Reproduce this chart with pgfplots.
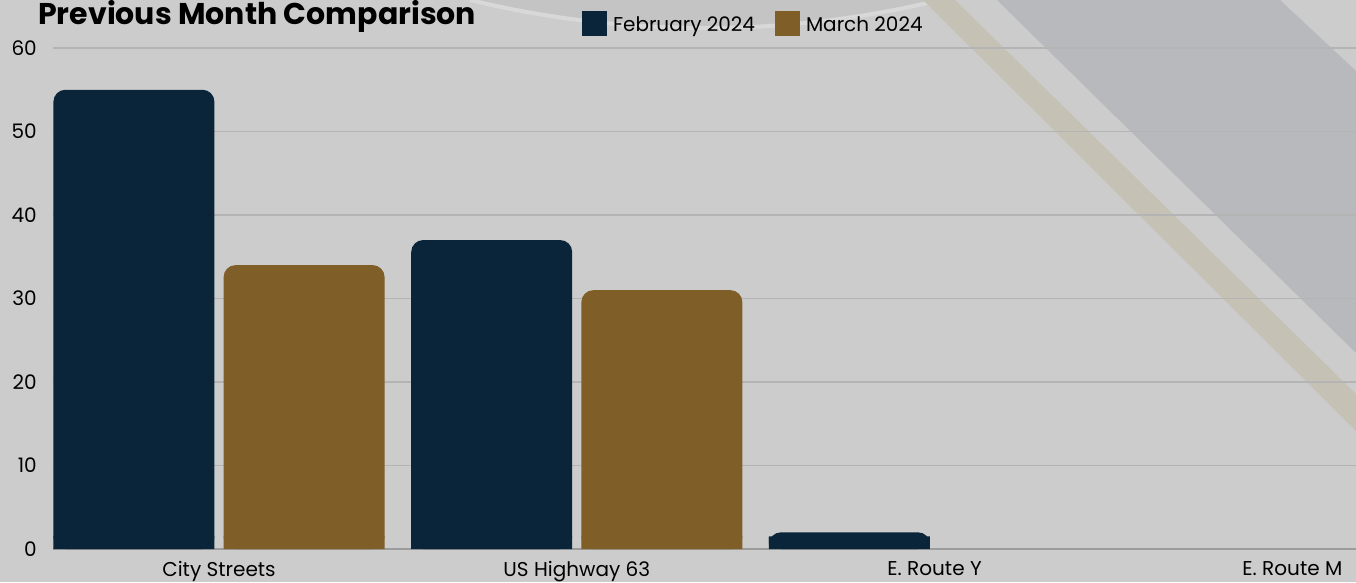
\documentclass[border=0pt]{standalone}
\usepackage{fontspec}
\setmainfont{Poppins}
\usepackage{pgfplots}
\pgfplotsset{compat=1.18}
\usepackage{pgfplotstable}

\definecolor{bg}{HTML}{CCCCCC}
\definecolor{febc}{HTML}{0A2539}
\definecolor{marc}{HTML}{7F5E28}
\definecolor{band}{HTML}{B8B9BD}
\definecolor{tanband}{HTML}{C5C1B5}
\definecolor{disc}{HTML}{C4C4C4}
\definecolor{rim}{HTML}{D8D8D8}
\definecolor{gridc}{HTML}{B4B4B4}
\definecolor{axisc}{HTML}{9C9C9C}

\pgfplotsset{
  sqlegend/.style={legend image code/.code={%
    \fill[##1, sharp corners] (0pt,-11.2pt) rectangle (25pt,13.8pt);}},
  % rounded-top bars: rounded bar + square-cornered foot over its lower part
  topbar/.style={ybar, fill=#1, draw=none, bar width=0.45,
    rounded corners=12pt, restrict y to domain=0.1:100},
  foot/.style={ybar, fill=#1, draw=none, bar width=0.45,
    sharp corners, restrict y to domain=0.1:100, forget plot},
}

% incidents per road, two months
\pgfplotstableread{
x feb mar
0 55 34
1 37 31
2 2  0
3 0  0
}\counts

\begin{document}
\begin{tikzpicture}
\useasboundingbox (0pt,0pt) rectangle (1356pt,582pt);
\fill[bg] (0pt,0pt) rectangle (1356pt,582pt);
% background decoration
\begin{scope}[x=1pt,y=1pt]
\fill[disc] (470,582) arc[start angle=256.4, end angle=283.6, radius=1000] -- cycle;
\draw[rim, line width=4] (470,582) arc[start angle=256.4, end angle=283.6, radius=1000];
\fill[band] (997,582) -- (1280,582) -- (1356,511) -- (1356,229) -- cycle;
\fill[tanband] (923,582) -- (955,582) -- (1356,188) -- (1356,151) -- cycle;
\end{scope}

\node[anchor=base west, inner sep=0pt, font=\fontsize{30}{36}\selectfont\bfseries]
  at (38pt,557pt) {Previous Month Comparison};

\begin{axis}[
  at={(53pt,33pt)}, anchor=south west,
  scale only axis, width=1303pt, height=501pt,
  xmin=-0.464, xmax=3.178,
  ymin=0, ymax=60,
  axis line style={draw=none},
  major tick length=0pt,
  tick style={draw=none},
  xtick={0,1,2,3},
  xticklabels={City Streets, US Highway 63, E. Route Y, E. Route M},
  ytick={0,10,...,60},
  extra y ticks={0},
  extra y tick labels={},
  extra y tick style={grid style={draw=axisc, line width=2pt}},
  ymajorgrids,
  grid style={draw=gridc, line width=1.3pt},
  ticklabel style={font=\fontsize{20}{24}\selectfont},
  /pgf/number format/assume math mode=true,
  yticklabel style={anchor=east, inner sep=0pt, xshift=-16pt},
  xticklabel style={anchor=north, inner sep=0pt, yshift=-12pt},
  legend columns=2,
  legend style={at={(axis description cs:0.406,1.049)}, anchor=west,
    draw=none, fill=none, inner sep=0pt, outer sep=0pt,
    font=\fontsize{20}{24}\selectfont,
    nodes={inner sep=0pt},
    /tikz/every odd column/.append style={column sep=6pt},
    /tikz/every even column/.append style={column sep=20pt}},
  legend cell align=left,
]
\addplot[topbar=febc, bar shift=-0.2378, sqlegend]
  table[x=x, y=feb] {\counts};
\addlegendentry{February 2024}
\addplot[topbar=marc, bar shift=0.2378, sqlegend]
  table[x=x, y=mar] {\counts};
\addlegendentry{March 2024}
\addplot[foot=febc, bar shift=-0.2378]
  table[x=x, y expr={min(\thisrow{feb},1.5)}] {\counts};
\addplot[foot=marc, bar shift=0.2378]
  table[x=x, y expr={min(\thisrow{mar},1.5)}] {\counts};
\end{axis}
\end{tikzpicture}
\end{document}
